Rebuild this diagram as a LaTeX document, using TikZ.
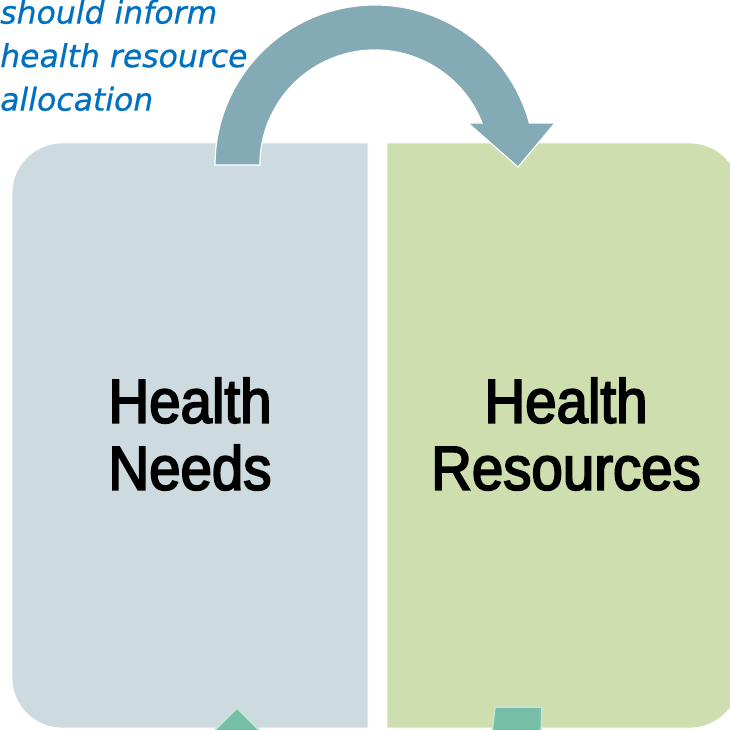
\documentclass[tikz,border=0pt]{standalone}
\usepackage{fontspec}
\setmainfont{Liberation Sans}
\newfontfamily\boxfont[FakeStretch=0.91, FakeBold=3]{Liberation Sans}
\newfontfamily\notefont[FakeBold=0.6]{DejaVu Sans}
\usetikzlibrary{positioning, calc}
\tikzset{
  panel/.style = {draw=white, line width=0.8pt},
  title/.style = {font=\boxfont\fontsize{62}{67}\selectfont, align=center, text=black},
  note/.style = {font=\notefont\itshape\fontsize{31.5}{43.5}\selectfont, align=left, text=noteBlue, inner sep=0pt, anchor=north west},
  bendarrow/.style = {fill=bendTeal, draw=white, line width=1.2pt},
  stub/.style = {fill=stubGreen, draw=stubEdge, line width=1.5pt}
}

\begin{document}
\begin{tikzpicture}[x=1pt, y=1pt]
  \definecolor{needsGray}{RGB}{205,219,224}
  \definecolor{resGreen}{RGB}{207,222,174}
  \definecolor{bendTeal}{RGB}{132,171,181}
  \definecolor{stubGreen}{RGB}{118,190,166}
  \definecolor{stubEdge}{RGB}{196,230,214}
  \definecolor{noteBlue}{RGB}{0,112,192}

  \def\Rbox{50}
  \def\Rout{160}
  \def\Rin{115}

  \useasboundingbox (0,0) rectangle (730,729);
  \clip (0,0) rectangle (730,729);

  % two panels, rounded on the outer side only
  \draw[panel, fill=needsGray] (368,1) -- (12+\Rbox,1)
    arc[start angle=270, end angle=180, radius=\Rbox] -- (12,586-\Rbox)
    arc[start angle=180, end angle=90, radius=\Rbox] -- (368,586) -- cycle;
  \draw[panel, fill=resGreen] (387,1) -- (387,586) -- (740-\Rbox,586)
    arc[start angle=90, end angle=0, radius=\Rbox] -- (740,1+\Rbox)
    arc[start angle=0, end angle=-90, radius=\Rbox] -- cycle;

  % shapes peeking in at the bottom edge
  \draw[stub] (237,21) -- (264,-6) -- (210,-6) -- cycle;
  \draw[stub] (495,22) -- (542,22) -- (541,-4) -- (492,-4) -- cycle;

  % curved arrow from needs to resources
  \draw[bendarrow] (375-\Rout,564) arc[start angle=180, end angle=15.2, radius=\Rout]
    -- (555,606) -- (518,562) -- (468,606) -- (482,606)
    arc[start angle=21.4, end angle=180, radius=\Rin] -- cycle;

  \node[title] (needs) at (190,295) {Health\\Needs};
  \node[title] (resources) at (566,295) {Health\\Resources};
  \node[note] (inform) at (0,729.5) {should inform\\health resource\\allocation};
\end{tikzpicture}
\end{document}
